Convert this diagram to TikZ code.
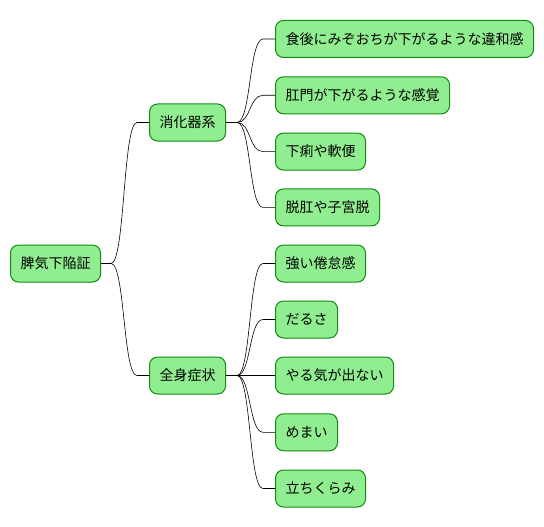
\documentclass[tikz,border=0pt]{standalone}
\usepackage{fontspec}
\usetikzlibrary{calc}
\setmainfont{Noto Sans CJK JP}
\definecolor{boxfill}{HTML}{90EE90}
\definecolor{boxline}{HTML}{108A10}
\begin{document}
\begin{tikzpicture}[x=1pt,y=-1pt,
  box/.style={draw=boxline,fill=boxfill,line width=1pt,rounded corners=8pt,
    minimum height=37pt,inner xsep=10pt,inner ysep=0pt,font=\fontsize{14pt}{16pt}\selectfont,anchor=west},
  link/.style={draw=black,line width=0.6pt}]
\useasboundingbox (0,0) rectangle (544,527);
\node[box] (root) at (10,263.5) {脾気下陥証};
\node[box] (dig) at (149,122.5) {消化器系};
\node[box] (whole) at (149,375.5) {全身症状};
\node[box] (d1) at (275,39) {食後にみぞおちが下がるような違和感};
\node[box] (d2) at (275,95.3) {肛門が下がるような感覚};
\node[box] (d3) at (275,151.6) {下痢や軟便};
\node[box] (d4) at (275,207.4) {脱肛や子宮脱};
\node[box] (w1) at (275,263.5) {強い倦怠感};
\node[box] (w2) at (275,319.5) {だるさ};
\node[box] (w3) at (275,375.5) {やる気が出ない};
\node[box] (w4) at (275,432.3) {めまい};
\node[box] (w5) at (275,488.5) {立ちくらみ};
\coordinate (r0) at ($(root.east)+(10,0)$);
\foreach \c in {dig,whole}{
  \draw[link] (root.east) -- (r0) .. controls ($(r0)+(14,0)$) and ($(\c.west)+(-26,0)$) .. ($(\c.west)+(-12,0)$) -- (\c.west);
}
\coordinate (g0) at ($(dig.east)+(11,0)$);
\foreach \c in {d1,d2,d3,d4}{
  \draw[link] (dig.east) -- (g0) .. controls ($(g0)+(14,0)$) and ($(\c.west)+(-26,0)$) .. ($(\c.west)+(-12,0)$) -- (\c.west);
}
\coordinate (h0) at ($(whole.east)+(11,0)$);
\foreach \c in {w1,w2,w3,w4,w5}{
  \draw[link] (whole.east) -- (h0) .. controls ($(h0)+(14,0)$) and ($(\c.west)+(-26,0)$) .. ($(\c.west)+(-12,0)$) -- (\c.west);
}
\end{tikzpicture}
\end{document}
